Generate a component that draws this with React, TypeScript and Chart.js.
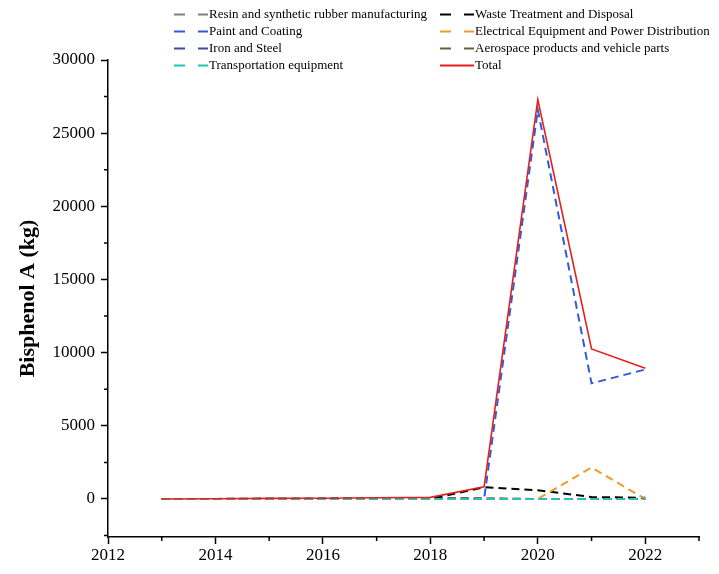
import React, { useEffect, useRef } from "react";
import { Chart, registerables } from "chart.js";

Chart.register(...registerables);

const YEARS = [2013, 2014, 2015, 2016, 2017, 2018, 2019, 2020, 2021, 2022];
const RESIN = [0, 5, 10, 10, 20, 30, 20, 0, 0, 0];
const PAINT = [0, 0, 0, 0, 0, 0, 0, 26600, 7900, 8850];
const IRON = [0, 5, 30, 40, 50, 60, 10, 0, 0, 0];
const TRANSPORT = [0, 0, 0, 0, 0, 0, 0, 0, 0, 0];
const WASTE = [0, 0, 0, 0, 0, 0, 800, 600, 130, 80];
const ELECTRICAL = [0, 0, 0, 0, 0, 0, 0, 0, 2150, 0];
const AEROSPACE = [0, 0, 0, 0, 20, 40, 40, 0, 0, 0];
const TOTAL = [0, 10, 40, 50, 80, 110, 830, 27300, 10250, 8930];

const X_TICKS = [2012, 2014, 2016, 2018, 2020, 2022];
const X_MINOR = [2013, 2015, 2017, 2019, 2021, 2023];
const Y_TICKS = [0, 5000, 10000, 15000, 20000, 25000, 30000];
const Y_MINOR = [-2500, 2500, 7500, 12500, 17500, 22500, 27500];

// z: lower is drawn on top
const SERIES = [
  { label: "Resin and synthetic rubber manufacturing", data: RESIN, color: "#808080", dashed: true, z: 7 },
  { label: "Waste Treatment and Disposal", data: WASTE, color: "#000000", dashed: true, z: 3 },
  { label: "Paint and Coating", data: PAINT, color: "#2F5BD8", dashed: true, z: 6 },
  { label: "Electrical Equipment and Power Distribution", data: ELECTRICAL, color: "#EE9A2E", dashed: true, z: 2 },
  { label: "Iron and Steel", data: IRON, color: "#3A4C9A", dashed: true, z: 5 },
  { label: "Aerospace products and vehicle parts", data: AEROSPACE, color: "#6E5A3C", dashed: true, z: 4 },
  { label: "Transportation equipment", data: TRANSPORT, color: "#22C4B4", dashed: true, z: 1 },
  { label: "Total", data: TOTAL, color: "#E3201E", dashed: false, z: 0 },
];

const FONT = "'Liberation Serif', 'Times New Roman', serif";

const legendPlugin = {
  id: "customLegend",
  afterDraw(chart: any) {
    const ctx = chart.ctx;
    ctx.save();
    ctx.font = `13px ${FONT}`;
    ctx.textBaseline = "middle";
    ctx.fillStyle = "#000";
    SERIES.forEach((s, i) => {
      const col = i % 2;
      const row = Math.floor(i / 2);
      const x0 = col === 0 ? 174 : 440;
      const y = 14.5 + row * 17;
      ctx.beginPath();
      ctx.strokeStyle = s.color;
      ctx.lineWidth = 2;
      ctx.setLineDash(s.dashed ? [11, 13] : []);
      ctx.moveTo(x0, y);
      ctx.lineTo(x0 + 34, y);
      ctx.stroke();
      ctx.setLineDash([]);
      ctx.fillText(s.label, x0 + 35, y + 0.5);
    });
    ctx.restore();
  },
};

const minorTicksPlugin = {
  id: "minorTicks",
  afterDraw(chart: any) {
    const ctx = chart.ctx;
    const xs = chart.scales.x;
    const ys = chart.scales.y;
    ctx.save();
    ctx.strokeStyle = "#000";
    ctx.lineWidth = 1.5;
    ctx.beginPath();
    X_MINOR.forEach((v) => {
      const px = xs.getPixelForValue(v);
      ctx.moveTo(px, ys.bottom);
      ctx.lineTo(px, ys.bottom + 4);
    });
    Y_MINOR.forEach((v) => {
      const py = ys.getPixelForValue(v);
      ctx.moveTo(xs.left, py);
      ctx.lineTo(xs.left - 4, py);
    });
    ctx.stroke();
    ctx.restore();
  },
};

export default function App() {
  const ref = useRef<HTMLCanvasElement>(null);
  useEffect(() => {
    if (!ref.current) return;
    const chart = new Chart(ref.current, {
      type: "line",
      data: {
        datasets: SERIES.map((s) => ({
          label: s.label,
          data: YEARS.map((yr, j) => ({ x: yr, y: s.data[j] })),
          borderColor: s.color,
          backgroundColor: s.color,
          borderWidth: s.dashed ? 2 : 1.6,
          borderDash: s.dashed ? [8, 5] : [],
          pointRadius: 0,
          tension: 0,
          fill: false,
          order: s.z,
        })),
      },
      options: {
        animation: false,
        responsive: false,
        layout: { padding: { top: 60, right: 20, bottom: 0, left: 0 } },
        plugins: { legend: { display: false }, tooltip: { enabled: false } },
        scales: {
          x: {
            type: "linear",
            min: 2012,
            max: 2023,
            afterBuildTicks: (scale: any) => {
              scale.ticks = X_TICKS.map((v) => ({ value: v }));
            },
            afterFit: (scale: any) => {
              scale.height = 37;
            },
            ticks: {
              color: "#000",
              font: { family: FONT, size: 17 },
              padding: 1,
              maxRotation: 0,
              callback: (v: any) => String(v),
            },
            grid: { display: true, drawOnChartArea: false, drawTicks: true, tickLength: 7, tickColor: "#000", tickWidth: 1.5 },
            border: { display: true, color: "#000", width: 1.5 },
          },
          y: {
            type: "linear",
            min: -2600,
            max: 30000,
            afterBuildTicks: (scale: any) => {
              scale.ticks = Y_TICKS.map((v) => ({ value: v }));
            },
            afterFit: (scale: any) => {
              scale.width = 108;
            },
            ticks: {
              color: "#000",
              font: { family: FONT, size: 17 },
              padding: 6,
              callback: (v: any) => String(v),
            },
            grid: { display: true, drawOnChartArea: false, drawTicks: true, tickLength: 7, tickColor: "#000", tickWidth: 1.5 },
            border: { display: true, color: "#000", width: 1.5 },
            title: {
              display: true,
              text: "Bisphenol A (kg)",
              color: "#000",
              font: { family: FONT, size: 22, weight: "bold" },
              padding: { top: 15, bottom: 0 },
            },
          },
        },
      },
      plugins: [legendPlugin, minorTicksPlugin],
    } as any);
    return () => chart.destroy();
  }, []);
  return (
    <div style={{ position: "absolute", left: 0, top: 0, width: 719, height: 574, background: "#fff" }}>
      <canvas ref={ref} width={719} height={574} style={{ display: "block" }} />
    </div>
  );
}
